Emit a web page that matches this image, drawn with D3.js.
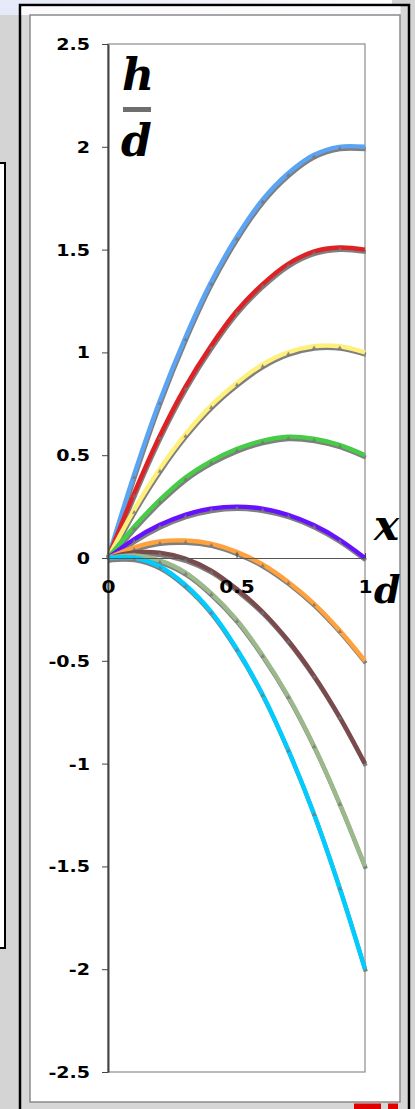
<!DOCTYPE html>
<html>
<head>
<meta charset="utf-8">
<script src="https://cdn.jsdelivr.net/npm/d3@7"></script>
<style>
    body { margin: 0; background: #d4d4d4; }
    svg { display: block; }
    .tick text { font-family: "DejaVu Sans", sans-serif; font-weight: bold; fill: #000; }
    .math { font-family: "DejaVu Serif", serif; font-weight: bold; font-style: italic; fill: #000; }
</style>
</head>
<body>
<div id="chart"></div>
<script>

// x/d sample points (markers every 0.1)
const xValues = [0, 0.1, 0.2, 0.3, 0.4, 0.5, 0.6, 0.7, 0.8, 0.9, 1];

// h/d for each curve
const blueValues   = [0, 0.40, 0.76, 1.07, 1.34, 1.56, 1.74, 1.87, 1.96, 2.00, 2.00];
const redValues    = [0, 0.31, 0.59, 0.83, 1.03, 1.20, 1.33, 1.43, 1.49, 1.51, 1.50];
const yellowValues = [0, 0.23, 0.43, 0.60, 0.74, 0.85, 0.94, 1.00, 1.03, 1.03, 1.00];
const greenValues  = [0, 0.15, 0.28, 0.39, 0.47, 0.53, 0.57, 0.59, 0.58, 0.55, 0.50];
const purpleValues = [0, 0.09, 0.16, 0.21, 0.24, 0.25, 0.24, 0.21, 0.16, 0.09, 0.00];
const orangeValues = [0, 0.05, 0.08, 0.085, 0.07, 0.03, -0.03, -0.115, -0.22, -0.35, -0.50];
const brownValues  = [0, 0.027, 0.026, -0.003, -0.06, -0.15, -0.26, -0.40, -0.57, -0.77, -1.00];
const oliveValues  = [0, 0.012, -0.012, -0.07, -0.17, -0.30, -0.47, -0.67, -0.91, -1.19, -1.50];
const cyanValues   = [0, 0.001, -0.04, -0.13, -0.26, -0.44, -0.66, -0.93, -1.24, -1.60, -2.00];

const seriesValues = [blueValues, redValues, yellowValues, greenValues, purpleValues,
                      orangeValues, brownValues, oliveValues, cyanValues];
const seriesColors = ["#5ba4f3", "#dd2226", "#fff07c", "#46cc46", "#6612ff",
                      "#ffa23e", "#7a4a4c", "#9bb98a", "#00ccff"];

const yTicks = [-2.5, -2, -1.5, -1, -0.5, 0, 0.5, 1, 1.5, 2, 2.5];
const yTickLabels = ["-2.5", "-2", "-1.5", "-1", "-0.5", "0", "0.5", "1", "1.5", "2", "2.5"];
const xTicks = [0, 0.5, 1];
const xTickLabels = ["0", "0.5", "1"];

const W = 415, H = 1109;
const plot = {left: 108, right: 365, top: 44, bottom: 1072};

let svg = d3.select("#chart").append("svg")
    .attr("width", W)
    .attr("height", H);

// ---- slide background ----
let defs = svg.append("defs");
let grad = defs.append("linearGradient").attr("id", "topband");
grad.append("stop").attr("offset", "0%").attr("stop-color", "#e6e9f8");
grad.append("stop").attr("offset", "70%").attr("stop-color", "#f6f7fc");
grad.append("stop").attr("offset", "100%").attr("stop-color", "#ffffff");

svg.append("rect").attr("width", W).attr("height", H).attr("fill", "#d4d4d4");
svg.append("rect").attr("x", 0).attr("y", 0).attr("width", 392).attr("height", 15)
    .attr("fill", "url(#topband)");

// box peeking in on the left
svg.append("rect").attr("x", -10).attr("y", 163).attr("width", 15).attr("height", 785)
    .attr("fill", "#fff").attr("stroke", "#000").attr("stroke-width", 2);

// black frame
svg.append("rect").attr("x", 20).attr("y", 5).attr("width", 389).attr("height", 1115)
    .attr("fill", "#d6d6d6").attr("stroke", "#000").attr("stroke-width", 2.5);
svg.append("rect").attr("x", 21.5).attr("y", 6.5).attr("width", 379).attr("height", 8.5)
    .attr("fill", "#fbfbfe");

// inner white panel
svg.append("rect").attr("x", 30).attr("y", 15).attr("width", 370).attr("height", 1087)
    .attr("fill", "#fff").attr("stroke", "#8a8a8a").attr("stroke-width", 1.5);

// red logo bits at the bottom
svg.append("rect").attr("x", 354).attr("y", 1103.5).attr("width", 27).attr("height", 6).attr("fill", "#e00000");
svg.append("rect").attr("x", 388).attr("y", 1103.5).attr("width", 10).attr("height", 6).attr("fill", "#e00000");

// ---- scales ----
let x = d3.scaleLinear().domain([0, 1]).range([plot.left, plot.right]);
let y = d3.scaleLinear().domain([-2.5, 2.5]).range([plot.bottom, plot.top]);

// plot area border
svg.append("rect")
    .attr("x", x(0)).attr("y", y(2.5))
    .attr("width", x(1) - x(0)).attr("height", y(-2.5) - y(2.5))
    .attr("fill", "none").attr("stroke", "#8c8c8c").attr("stroke-width", 1.2);

// ---- curves ----
let line = d3.line()
    .x((d, i) => x(xValues[i]))
    .y(d => y(d))
    .curve(d3.curveCatmullRom);

let curves = svg.append("g").attr("class", "curves");

seriesValues.forEach((vals, k) => {
    // gray data series sitting just under the coloured one
    curves.append("path")
        .datum(vals)
        .attr("fill", "none")
        .attr("stroke", "#7f7f7f")
        .attr("stroke-width", 4.2)
        .attr("transform", "translate(0.8,2.4)")
        .attr("d", line);
    curves.append("path")
        .datum(vals)
        .attr("fill", "none")
        .attr("stroke", seriesColors[k])
        .attr("stroke-width", 4.4)
        .attr("d", line);
    // tiny markers
    curves.selectAll(null)
        .data(vals)
        .enter().append("path")
        .attr("d", d3.symbol().type(d3.symbolTriangle).size(9))
        .attr("fill", "#777")
        .attr("transform", (d, i) => `translate(${x(xValues[i]) + 0.5},${y(d) + 1.8})`)
        .attr("opacity", (d, i) => (i > 0 && i < xValues.length - 1) ? 0.8 : 0);
});

// ---- axes ----
let yAxis = d3.axisLeft(y)
    .tickValues(yTicks)
    .tickSize(6)
    .tickSizeOuter(0)
    .tickFormat((d, i) => yTickLabels[i]);

let yG = svg.append("g")
    .attr("class", "y-axis")
    .attr("transform", `translate(${x(0)},0)`)
    .call(yAxis);
yG.select(".domain").attr("stroke", "#444").attr("stroke-width", 2);
yG.selectAll(".tick line").attr("stroke", "#444");
yG.selectAll(".tick text")
    .attr("font-size", 15.5)
    .attr("x", -14.6)
    .attr("dy", "0.36em")
    .attr("transform", "scale(1.23,1)");

let xAxis = d3.axisBottom(x)
    .tickValues(xTicks)
    .tickSize(-5)
    .tickSizeOuter(0)
    .tickFormat((d, i) => xTickLabels[i]);

let xG = svg.append("g")
    .attr("class", "x-axis")
    .attr("transform", `translate(0,${y(0)})`)
    .call(xAxis);
xG.select(".domain").attr("stroke", "#555").attr("stroke-width", 1.2);
xG.selectAll(".tick line").attr("stroke", "#444");
xG.selectAll(".tick text")
    .attr("font-size", 18)
    .attr("y", 35)
    .attr("dy", 0)
    .attr("transform", "scale(1.12,1)");

// ---- axis titles (h/d and x/d) ----
svg.append("text").attr("class", "math")
    .attr("x", 122).attr("y", 90).attr("font-size", 44).text("h");
svg.append("rect")
    .attr("x", 123).attr("y", 107).attr("width", 28).attr("height", 5)
    .attr("fill", "#6e6e6e");
svg.append("text").attr("class", "math")
    .attr("x", 121).attr("y", 156).attr("font-size", 44).text("d");

svg.append("text").attr("class", "math")
    .attr("x", 374).attr("y", 540).attr("font-size", 42).text("x");
svg.append("text").attr("class", "math")
    .attr("x", 374).attr("y", 603).attr("font-size", 38).text("d");

</script>
</body>
</html>
